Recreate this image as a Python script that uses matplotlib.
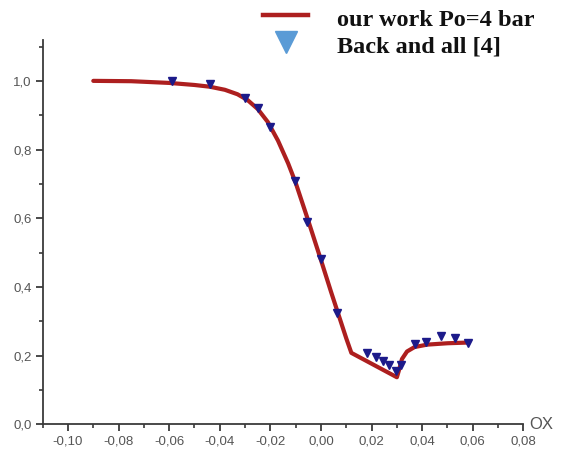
import matplotlib
matplotlib.use("Agg")
import matplotlib.pyplot as plt
from matplotlib.lines import Line2D
from matplotlib.ticker import MultipleLocator, FuncFormatter

# Computed profile ("our work", Po = 4 bar)
model_x = [-0.090, -0.075, -0.060, -0.050, -0.044, -0.038, -0.033, -0.029,
           -0.025, -0.021, -0.017, -0.013, -0.010, -0.005, 0.000, 0.004,
           0.008, 0.010, 0.012, 0.030, 0.031, 0.032, 0.034, 0.037,
           0.042, 0.050, 0.058]
model_y = [1.000, 0.999, 0.994, 0.988, 0.983, 0.974, 0.961, 0.944,
           0.918, 0.880, 0.826, 0.760, 0.703, 0.592, 0.478, 0.385,
           0.295, 0.250, 0.208, 0.137, 0.162, 0.190, 0.212, 0.225,
           0.232, 0.236, 0.238]

# Experimental points (Back and all [4])
exp_x = [-0.059, -0.044, -0.030, -0.025, -0.020, -0.0104, -0.0057, -0.0001,
         0.0062, 0.0183, 0.0219, 0.0245, 0.0269, 0.0298, 0.0315, 0.0370,
         0.0417, 0.0473, 0.0528, 0.0581]
exp_y = [1.000, 0.990, 0.951, 0.920, 0.866, 0.707, 0.590, 0.481,
         0.325, 0.208, 0.195, 0.185, 0.173, 0.155, 0.173, 0.233,
         0.239, 0.257, 0.250, 0.238]

series_labels = ["our work Po=4 bar", "Back and all [4]"]
axis_label_x = "OX"

LINE_COLOR = "#ad1f1f"
POINT_COLOR = "#1c1a8a"
KEY_POINT_COLOR = "#5a9bd6"

W, H = 564, 461
fig = plt.figure(figsize=(W / 100, H / 100), dpi=100)
ax = fig.add_axes([0.0757, 0.0796, 0.928 - 0.0757, 0.914 - 0.0796])

ax.plot(model_x, model_y, color=LINE_COLOR, lw=3.0, solid_capstyle="round",
        solid_joinstyle="round", zorder=2)
ax.plot(exp_x, exp_y, linestyle="none", marker="v", ms=6,
        color=POINT_COLOR, zorder=3)

ax.set_xlim(-0.110, 0.080)
ax.set_ylim(0.0, 1.12)

for side in ("top", "right"):
    ax.spines[side].set_visible(False)
for side in ("left", "bottom"):
    ax.spines[side].set_color("#3a3a3a")
    ax.spines[side].set_linewidth(1.3)

ax.xaxis.set_major_locator(MultipleLocator(0.02))
ax.xaxis.set_minor_locator(MultipleLocator(0.01))
ax.yaxis.set_major_locator(MultipleLocator(0.2))
ax.yaxis.set_minor_locator(MultipleLocator(0.1))


def comma_fmt(decimals):
    def f(v, pos):
        s = f"{v:.{decimals}f}"
        if s.startswith("-") and float(s) == 0:
            s = s[1:]
        return s.replace(".", ",")
    return FuncFormatter(f)


ax.xaxis.set_major_formatter(comma_fmt(2))
ax.yaxis.set_major_formatter(comma_fmt(1))

ax.tick_params(which="major", direction="out", length=5, width=1.3,
               color="#3a3a3a", labelsize=9.5, labelcolor="#555555", pad=3)
ax.tick_params(which="minor", direction="out", length=3, width=1.2,
               color="#3a3a3a")
for lab in ax.get_xticklabels() + ax.get_yticklabels():
    lab.set_family("Liberation Sans")

ax.text(1.012, 0.0, axis_label_x, transform=ax.transAxes, ha="left",
        va="center", fontsize=12, color="#555555", family="Liberation Sans")

# Key in the upper right, placed in figure pixel coordinates
def fx(px):
    return px / W


def fy(py):
    return 1 - py / H


fig.add_artist(Line2D([fx(263), fx(308)], [fy(15), fy(15)],
                      transform=fig.transFigure, color=LINE_COLOR, lw=3.2))
fig.add_artist(Line2D([fx(286)], [fy(42)], transform=fig.transFigure,
                      linestyle="none", marker="v", ms=16,
                      color=KEY_POINT_COLOR))
text_style = dict(family="Liberation Serif", weight="bold", fontsize=17.5,
                  color="#111111", ha="left", va="baseline")
fig.text(fx(337), fy(26), series_labels[0], **text_style)
fig.text(fx(337), fy(53), series_labels[1], **text_style)

fig.savefig("out.png", dpi=100, facecolor="white")
